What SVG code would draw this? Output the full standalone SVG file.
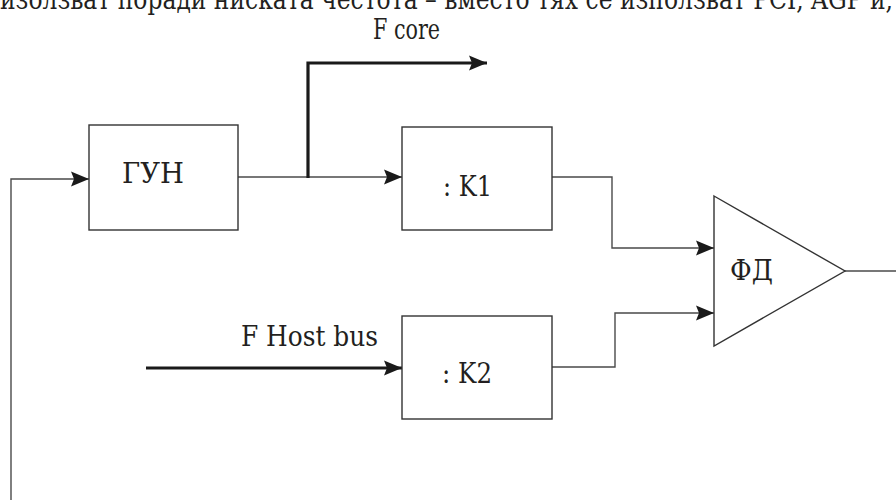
<svg xmlns="http://www.w3.org/2000/svg" width="896" height="500" viewBox="0 0 896 500">
  <style>
    text { fill: #231f20; font-size: 28px; font-family: 'DejaVu Serif Condensed', 'DejaVu Serif', serif; font-stretch: condensed; }
    .box { fill: #ffffff; stroke: #333333; stroke-width: 1.4; }
    .thin { fill: none; stroke: #4a4a4a; stroke-width: 1.4; }
    .thick { fill: none; stroke: #1a1a1a; stroke-width: 3.2; }
  </style>
  <defs>
    <marker id="arrow" markerUnits="userSpaceOnUse" markerWidth="20" markerHeight="16" refX="18" refY="7.5" orient="auto" overflow="visible">
      <path d="M0,0 L18,7.5 L0,15 L3,7.5 Z" fill="#1a1a1a"/>
    </marker>
  </defs>
  <rect width="896" height="500" fill="#ffffff"/>

  <!-- running text line, partly above the top edge -->
  <text x="0" y="9" textLength="893" lengthAdjust="spacingAndGlyphs">изолзват поради ниската  честота – вместо тях се използват PCI, AGP и,</text>

  <!-- connectors -->
  <g id="connectors">
    <polyline class="thin" points="11,500 11,179 89,179" marker-end="url(#arrow)"/>
    <line class="thin" x1="238" y1="177" x2="402" y2="177" marker-end="url(#arrow)"/>
    <polyline class="thick" points="308,178 308,63 487,63" marker-end="url(#arrow)"/>
    <polyline class="thin" points="552,177 612,177 612,248 714,248" marker-end="url(#arrow)"/>
    <polyline class="thin" points="552,367 615,367 615,313 714,313" marker-end="url(#arrow)"/>
    <line class="thin" x1="845" y1="271" x2="896" y2="271"/>
    <line class="thick" x1="146" y1="368" x2="402" y2="368" marker-end="url(#arrow)"/>
    <text x="373" y="39" textLength="67" lengthAdjust="spacingAndGlyphs">F core</text>
    <text x="241" y="346" textLength="137" lengthAdjust="spacingAndGlyphs">F Host bus</text>
  </g>

  <!-- nodes -->
  <g id="vco">
    <rect class="box" x="89" y="125" width="149" height="105"/>
    <text x="122" y="183" textLength="62" lengthAdjust="spacingAndGlyphs">ГУН</text>
  </g>
  <g id="div-k1">
    <rect class="box" x="402" y="127" width="150" height="103"/>
    <text x="443" y="196" textLength="49" lengthAdjust="spacingAndGlyphs">: K1</text>
  </g>
  <g id="div-k2">
    <rect class="box" x="402" y="316" width="150" height="103"/>
    <text x="442" y="383" textLength="50" lengthAdjust="spacingAndGlyphs">: K2</text>
  </g>
  <g id="phase-detector">
    <polygon class="box" points="714,196 845,271 714,346"/>
    <text x="730" y="280" textLength="43" lengthAdjust="spacingAndGlyphs">ФД</text>
  </g>
</svg>
